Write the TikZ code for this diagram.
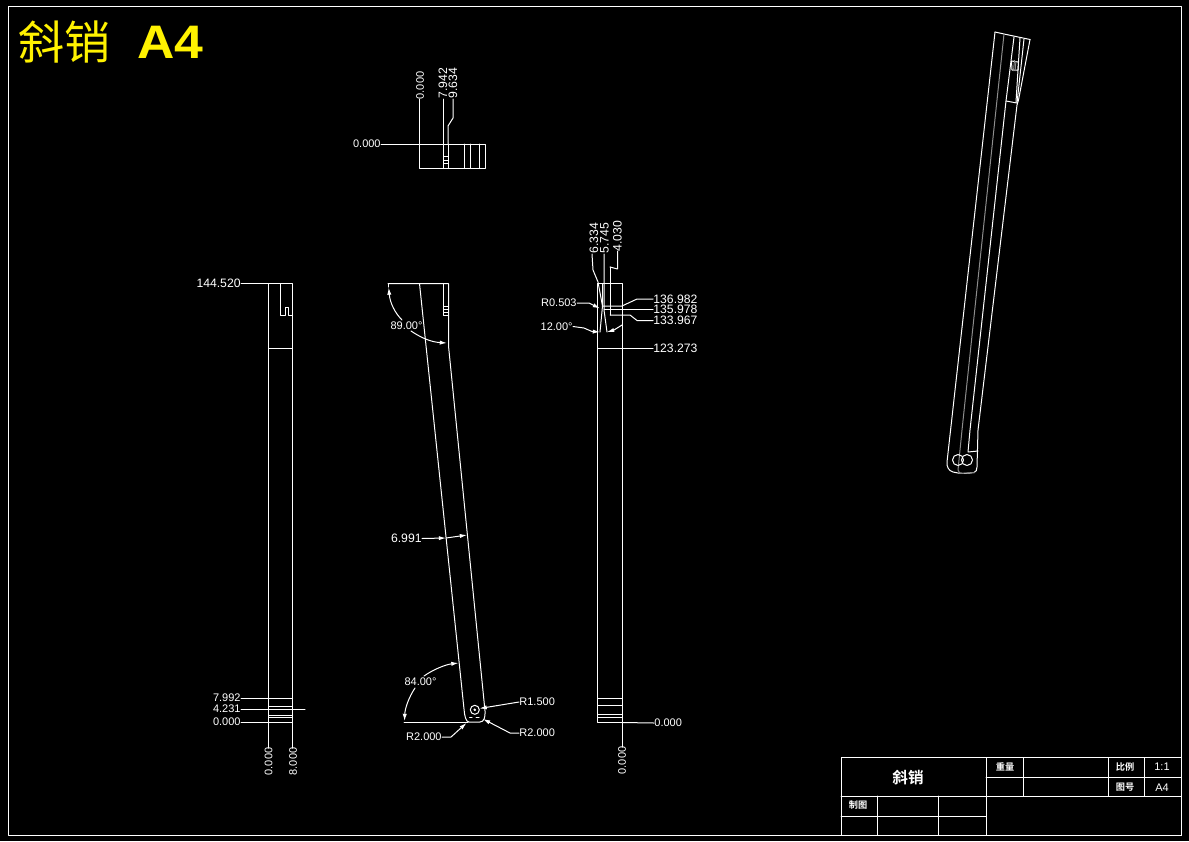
\documentclass[tikz,border=0pt]{standalone}
\usepackage{fontspec}
\setmainfont{Liberation Sans}
\newfontfamily\cjk{Noto Sans CJK SC}
\newfontfamily\cjkb{Noto Sans CJK SC Bold}
\usetikzlibrary{arrows.meta}
\tikzset{
  cad/.style={draw=white,line width=0.5pt,line cap=round,line join=round},
  hid/.style={draw=white!55!black,line width=0.5pt,line join=round},
  dim/.style={text=white,inner sep=0pt,font=\fontsize{6.1}{7}\selectfont},
  dims/.style={text=white,inner sep=0pt,font=\fontsize{5.5}{7}\selectfont},
  vdim/.style={dim,rotate=90},
  vdims/.style={dims,rotate=90},
  small/.style={text=white,inner sep=0pt,font=\cjkb\fontsize{4.6}{5}\selectfont},
  tip/.style={-{Latex[length=3.6pt,width=2.1pt]}},
}
\begin{document}
\begin{tikzpicture}[x=0.5pt,y=-0.5pt]
\useasboundingbox (0,0) rectangle (1189,841);
\fill[black] (0,0) rectangle (1189,841);
% sheet frame
\draw[cad] (8.5,6.5) rectangle (1181,835);
% heading
\node[text=yellow,inner sep=0pt,anchor=west,font=\cjk\fontsize{23}{24}\selectfont] (head) at (18,42) {斜销};
\node[text=yellow,inner sep=0pt,anchor=west,xscale=1.1,font=\bfseries\fontsize{23.5}{25}\selectfont] (headb) at (137,42) {A4};
% title block
\draw[cad] (841,757.5) rectangle (1181,835);
\draw[cad] (841,796) -- (1181,796);
\draw[cad] (986,757.5) -- (986,835);
\draw[cad] (986,777) -- (1181,777);
\draw[cad] (1023,757.5) -- (1023,796);
\draw[cad] (1108,757.5) -- (1108,796);
\draw[cad] (1144,757.5) -- (1144,796);
\draw[cad] (841,816) -- (986,816);
\draw[cad] (877,796) -- (877,835);
\draw[cad] (938,796) -- (938,835);
\node[text=white,inner sep=0pt,font=\cjkb\fontsize{7.8}{8}\selectfont] (tname) at (908,778) {斜销};
\node[small] (tweight) at (1005,767) {重量};
\node[small] (tratio) at (1125,767) {比例};
\node[small] (tdraw) at (1125,787) {图号};
\node[small] (tmade) at (858,805) {制图};
\node[dims] (tscale) at (1162,767) {1:1};
\node[dims] (tsize) at (1162,788) {A4};

% ---- top view
\draw[cad] (419.5,144) rectangle (485,168.5);
\foreach \x in {443.5,448,464.5,470.5,479} \draw[cad] (\x,144) -- (\x,168.5);
\foreach \y in {156,160,163.5} \draw[cad] (443.5,\y) -- (448,\y);
\node[dims,anchor=east] (a0) at (381,144) {0.000};
\draw[cad] (a0.east) -- (419.5,144);
\node[vdims] (a1) at (420,85.5) {0.000};
\node[vdim] (a2) at (443,83) {7.942};
\node[vdim] (a3) at (453,83) {9.634};
\draw[cad] (419.5,99) -- (419.5,144);
\draw[cad] (443.5,99) -- (443.5,144);
\draw[cad] (453,99) -- (453,118) -- (448,126) -- (448,144);

% ---- left view
\draw[cad] (268.5,283.5) rectangle (292.5,722);
\draw[cad] (268.5,348) -- (292.5,348);
\draw[cad] (280,283.5) -- (280,315) -- (285.5,315) -- (285.5,307.5) -- (288.5,307.5) -- (288.5,315) -- (292.5,315);
\foreach \y in {698,706,715,717} \draw[cad] (268.5,\y) -- (292.5,\y);
\node[dim,anchor=east] (b0) at (241,283.5) {144.520};
\draw[cad] (b0.east) -- (268.5,283.5);
\node[dims,anchor=east] (b1) at (241,698) {7.992};
\draw[cad] (b1.east) -- (292.5,698);
\node[dims,anchor=east] (b2) at (241,709) {4.231};
\draw[cad] (b2.east) -- (305,709);
\node[dims,anchor=east] (b3) at (241,722) {0.000};
\draw[cad] (b3.east) -- (268.5,722);
\node[vdims] (b4) at (268.5,761.5) {0.000};
\node[vdims] (b5) at (293,761.5) {8.000};
\draw[cad] (268.5,722) -- (268.5,748);
\draw[cad] (292.5,722) -- (292.5,748);

% ---- front view
\draw[cad] (388,283.5) -- (448.5,283.5) -- (448.5,346) -- (481.5,676) -- (485,711)
  .. controls (485.5,717) and (484,722) .. (480,722) -- (469,722)
  .. controls (466,722) and (464.5,716) .. (464,709) -- (419.5,283.5);
\draw[cad] (443.5,283.5) -- (443.5,315) -- (448.5,315);
\foreach \y in {306,309,312} \draw[cad] (443.5,\y) -- (448.5,\y);
\draw[cad] (404,722) -- (468,722);
\draw[cad] (474.8,709.8) circle (4.5pt/2);
\fill[white] (474.8,709.8) circle (0.7pt);
\draw[cad] (469.5,717) -- (472,717);
\draw[cad] (476,717) -- (479,717);
% 89 degree dimension
\node[dims] (c0) at (406.5,326) {89.00°};
\draw[cad] (388,284) -- (388,287);
\draw[cad,tip] (402,320) .. controls (395,313) and (390,303) .. (388.7,287.5);
\draw[cad,tip] (411,331) .. controls (420,337) and (430,342) .. (447,343);
% 84 degree dimension
\node[dims] (c1) at (420.5,682) {84.00°};
\draw[cad,tip] (415,688) .. controls (409,697) and (405,708) .. (404.5,721);
\draw[cad,tip] (424,676) .. controls (434,669) and (446,664.5) .. (458.5,663);
% thickness
\node[dim,anchor=east] (c2) at (422,538.5) {6.991};
\coordinate (cl) at (446,538);
\coordinate (cr) at (467,535);
\draw[cad,tip] (c2.east) -- (cl);
\draw[cad,tip] (cl) -- (cr);

% radii
\node[dims,anchor=west] (c3) at (519,702) {R1.500};
\draw[cad,tip] (c3.west) -- (479.5,708.5);
\node[dims,anchor=west] (c4) at (519,733) {R2.000};
\draw[cad,tip] (c4.west) -- (510,733) -- (483,719);
\node[dims,anchor=east] (c5) at (442,737) {R2.000};
\draw[cad,tip] (c5.east) -- (451,737) -- (466.5,723);

% ---- right view
\draw[cad] (597.5,283.5) rectangle (622,722);
\draw[cad] (597.5,348) -- (622,348);
\foreach \y in {698,705,714,717} \draw[cad] (597.5,\y) -- (622,\y);
\draw[cad] (602.5,283.5) -- (602.5,306) -- (600,332);
\draw[cad] (604,254) -- (604,310) -- (607,332);
\draw[cad] (610,267) -- (610,315);
\node[vdim] (d0) at (594,238) {6.334};
\node[vdim] (d1) at (604.5,238) {5.745};
\node[vdim] (d2) at (617.5,236) {4.030};
\draw[cad] (592,254) -- (593,270) -- (598,282) -- (602.5,306);
\draw[cad] (617.5,251) -- (617.5,269) -- (610,267);
\node[dim,anchor=west] (d3) at (653,299) {136.982};
\draw[cad] (602.5,306) -- (622,306) -- (637,299) -- (d3.west);
\node[dim,anchor=west] (d4) at (653,309.5) {135.978};
\draw[cad] (604,309.5) -- (d4.west);
\node[dim,anchor=west] (d5) at (653,320.5) {133.967};
\draw[cad] (610,315) -- (630,315) -- (637,320.5) -- (d5.west);
\node[dim,anchor=west] (d6) at (653,348.5) {123.273};
\draw[cad] (622,348.5) -- (d6.west);
\node[dims,anchor=east] (d7) at (577,303) {R0.503};
\draw[cad,tip] (d7.east) -- (589,303) -- (600,308.5);
\node[dims,anchor=east] (d8) at (573,326.5) {12.00°};
\draw[cad,tip] (d8.east) -- (584,328) -- (592,331.5) -- (600,332);
\draw[cad,tip] (622,325) -- (614,330) -- (607,332);
\node[dims,anchor=west] (d9) at (654,723) {0.000};
\draw[cad] (622,722.5) -- (d9.west);
\node[vdims] (d10) at (622,760.5) {0.000};
\draw[cad] (622,722) -- (622,747);

% ---- isometric view
\draw[cad] (995,32) -- (1004,34) -- (1030,39.5);
\draw[cad] (995,32) -- (947,462) .. controls (946.5,467) and (949,471) .. (953,472)
  .. controls (960,474) and (968,473.5) .. (974,472.5) .. controls (976,472) and (977,470) .. (977,467) -- (978,430) -- (1017,105) -- (1018.5,100) -- (1030,39.5);
\draw[hid] (1004,34) -- (962,430) -- (958,470) -- (960,473.5) -- (975,472.5);
\draw[cad] (1014,37) -- (1006,101) -- (970,430) -- (968,452) -- (978,451);
\draw[cad] (1020,38) -- (1016,102);
\draw[cad] (1024,39) -- (1017,103);
\draw[cad] (1006,101) -- (1017,103);
\draw[cad] (1011.5,61) -- (1018.5,62) -- (1018,70) -- (1012,70) -- cycle;
\draw[hid] (1014.5,60) -- (1013.5,71);
\draw[hid] (1016,61) -- (1015,71);
\draw[cad] (958,460) circle [x radius=5.5,y radius=5.5];
\draw[cad] (967,460) circle [x radius=5.5,y radius=5.5];
\end{tikzpicture}
\end{document}
